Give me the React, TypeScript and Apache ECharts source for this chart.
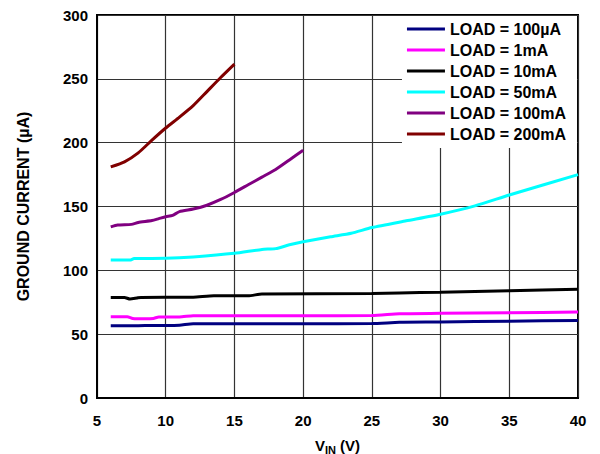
import React, { useEffect, useRef } from "react";
import * as echarts from "echarts";

const seriesNames = ["LOAD = 100µA", "LOAD = 1mA", "LOAD = 10mA", "LOAD = 50mA", "LOAD = 100mA", "LOAD = 200mA"];
const seriesColors = ["#000080", "#ff00ff", "#000000", "#00ffff", "#800080", "#800000"];

const load100uA = [[6, 56.6], [7, 56.6], [8, 56.6], [9, 56.8], [10, 56.8], [11, 57], [12, 58.2], [15, 58.2], [20, 58.2], [25, 58.3], [27, 59.3], [30, 59.5], [35, 60.2], [40, 60.8]];
const load1mA = [[6, 63.7], [7.2, 63.7], [7.6, 62.3], [8.5, 62], [9.1, 62.3], [9.5, 63.5], [11, 63.5], [12, 64.5], [20, 64.5], [25, 64.6], [27, 66], [30, 66.3], [35, 66.8], [40, 67.3]];
const load10mA = [[6, 78.8], [7, 78.8], [7.4, 77.5], [7.9, 78.3], [8.2, 78.8], [12, 79], [13.5, 80], [16, 80], [17, 81.5], [25, 81.8], [27, 82.3], [30, 82.8], [35, 84], [40, 85.1]];
const load50mA = [[6, 108], [7.4, 108], [7.7, 109.2], [10, 109.4], [12, 110.5], [15, 113.3], [17, 116.4], [18, 117], [19, 120], [20, 122.4], [22, 126.3], [23.5, 129], [25, 133.5], [27.5, 138.8], [30, 144], [32.5, 150.5], [35, 159], [40, 175]];
const load100mA = [[6, 134], [6.5, 135.5], [7.5, 136], [8, 137.5], [9, 139], [9.5, 140.5], [10, 142], [10.5, 143], [11, 146], [12, 148], [13, 151], [14, 155.5], [15, 161], [16, 167], [17, 173], [18, 179], [19, 186.5], [20, 194]];
const load200mA = [[6, 181], [7, 185], [8, 192], [9, 202], [10, 211.5], [11, 220], [12, 229], [13, 240], [14, 251], [15, 261.5]];

const allData = [load100uA, load1mA, load10mA, load50mA, load100mA, load200mA];

const FONT = "Arial, 'Liberation Sans', sans-serif";

export default function App() {
  const ref = useRef<HTMLDivElement>(null);
  useEffect(() => {
    if (!ref.current) return;
    const chart = echarts.init(ref.current, null, { renderer: "svg" });
    chart.setOption({
      animation: false,
      backgroundColor: "#ffffff",
      grid: {
        left: 97, right: 22, top: 15, bottom: 56,
        containLabel: false, outerBoundsMode: "none",
        show: true, borderColor: "#000", borderWidth: 2, backgroundColor: "transparent",
      },
      legend: {
        data: seriesNames,
        orient: "vertical",
        right: 23,
        top: 16,
        backgroundColor: "#ffffff",
        padding: [5, 11, 6, 5],
        itemGap: 5,
        itemWidth: 38,
        itemHeight: 3,
        icon: "rect",
        textStyle: { fontFamily: FONT, fontWeight: "bold", fontSize: 16, lineHeight: 16, color: "#000" },
      },
      xAxis: {
        type: "value",
        min: 5,
        max: 40,
        interval: 5,
        name: "{n|V}{s|IN}{n| (V)}",
        nameLocation: "middle",
        nameGap: 37,
        nameTextStyle: {
          rich: {
            n: { fontFamily: FONT, fontWeight: "bold", fontSize: 15, color: "#000" },
            s: { fontFamily: FONT, fontWeight: "bold", fontSize: 11, color: "#000", padding: [9, 0, 0, 0] },
          },
        },
        axisLine: { show: true, lineStyle: { color: "#000", width: 2 } },
        axisTick: { show: false },
        axisLabel: { margin: 15, fontFamily: FONT, fontWeight: "bold", fontSize: 15, color: "#000" },
        splitLine: { show: true, lineStyle: { color: "#333", width: 1.2 } },
      },
      yAxis: {
        type: "value",
        min: 0,
        max: 300,
        interval: 50,
        name: "GROUND CURRENT (µA)",
        nameLocation: "middle",
        nameGap: 66,
        nameTextStyle: { fontFamily: FONT, fontWeight: "bold", fontSize: 16, color: "#000" },
        axisLine: { show: true, lineStyle: { color: "#000", width: 2 } },
        axisTick: { show: false },
        axisLabel: { margin: 9, fontFamily: FONT, fontWeight: "bold", fontSize: 15, color: "#000" },
        splitLine: { show: true, lineStyle: { color: "#333", width: 1.2 } },
      },
      series: allData.map((d, i) => ({
        name: seriesNames[i],
        type: "line",
        data: d,
        showSymbol: false,
        symbol: "none",
        smooth: 0.2,
        color: seriesColors[i],
        lineStyle: { color: seriesColors[i], width: 3 },
      })),
    });
    return () => chart.dispose();
  }, []);
  return <div ref={ref} style={{ position: "absolute", left: 0, top: 0, width: 600, height: 454 }} />;
}
